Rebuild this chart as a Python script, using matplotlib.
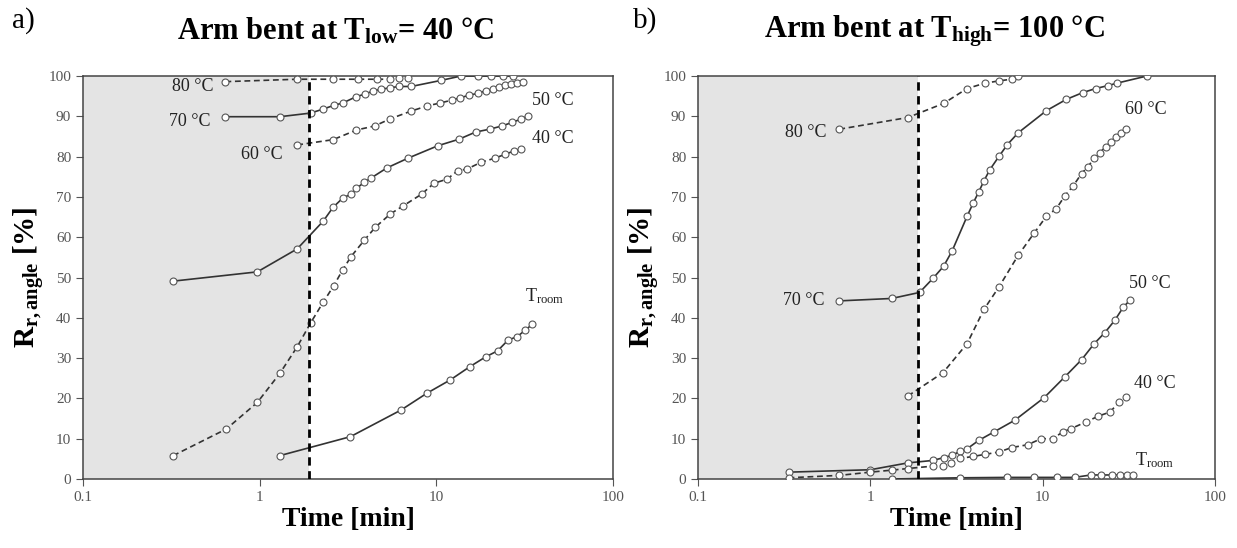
import matplotlib
matplotlib.use("Agg")
import matplotlib.pyplot as plt

plt.rcParams['font.family'] = ['Liberation Serif', 'DejaVu Serif']
plt.rcParams['mathtext.fontset'] = 'custom'
plt.rcParams['mathtext.rm'] = 'Liberation Serif'
plt.rcParams['mathtext.it'] = 'Liberation Serif'
plt.rcParams['mathtext.bf'] = 'Liberation Serif:bold'

#---------------------------data, panel a (T_low = 40 C)---------------------------#
a80_t = [0.64, 1.63, 2.6, 3.6, 4.6, 5.5, 6.15, 6.9]
a80_r = [98.6, 99.2, 99.2, 99.2, 99.2, 99.2, 99.4, 99.4]
a70_t = [0.64, 1.30, 1.94, 2.29, 2.62, 2.95, 3.53, 3.94, 4.38, 4.86, 5.5, 6.15, 7.2,
         10.6, 13.8, 17.1, 20.3, 23.8, 27.3]
a70_r = [89.9, 89.9, 90.8, 91.8, 92.7, 93.3, 94.9, 95.5, 96.3, 96.7, 97.1, 97.4, 97.4,
         98.9, 100, 100, 100, 100, 100]
a60_t = [1.63, 2.6, 3.53, 4.47, 5.5, 7.2, 8.9, 10.5, 12.2, 13.6, 15.3, 17.1, 19.0,
         20.9, 22.7, 24.6, 26.3, 28.6, 30.8]
a60_r = [82.9, 84.2, 86.6, 87.6, 89.4, 91.3, 92.6, 93.3, 94.0, 94.6, 95.2, 95.7, 96.3,
         96.8, 97.3, 97.7, 98.1, 98.3, 98.6]
a50_t = [0.324, 0.97, 1.63, 2.29, 2.6, 2.95, 3.29, 3.53, 3.9, 4.24, 5.25, 6.9, 10.2,
         13.4, 16.7, 20.0, 23.5, 26.9, 30.1, 33.0]
a50_r = [49.1, 51.4, 57.1, 64.0, 67.4, 69.7, 70.7, 72.1, 73.6, 74.6, 77.2, 79.6, 82.7,
         84.3, 86.1, 86.8, 87.6, 88.5, 89.3, 90.1]
a40_t = [0.324, 0.647, 0.97, 1.30, 1.63, 1.94, 2.29, 2.62, 2.95, 3.29, 3.9, 4.52, 5.5,
         6.5, 8.26, 9.7, 11.5, 13.2, 14.9, 17.9, 21.4, 24.6, 27.5, 30.1]
a40_r = [5.8, 12.4, 19.0, 26.2, 32.8, 38.7, 43.9, 47.9, 51.9, 55.2, 59.2, 62.5, 65.8,
         67.8, 70.7, 73.4, 74.4, 76.5, 76.9, 78.6, 79.6, 80.6, 81.4, 81.9]
aRT_t = [1.30, 3.26, 6.3, 8.85, 12.0, 15.5, 19.0, 22.2, 25.5, 28.6, 31.8, 34.9]
aRT_r = [5.8, 10.5, 17.1, 21.3, 24.6, 27.9, 30.3, 31.8, 34.5, 35.3, 36.9, 38.4]

#---------------------------data, panel b (T_high = 100 C)---------------------------#
b80_t = [0.66, 1.65, 2.66, 3.64, 4.6, 5.58, 6.59, 7.2]
b80_r = [86.8, 89.7, 93.2, 96.9, 98.2, 98.8, 99.2, 100]
b70_t = [0.66, 1.33, 1.93, 2.32, 2.66, 2.98, 3.64, 3.95, 4.26, 4.56, 4.94, 5.58, 6.24,
         7.2, 10.5, 13.7, 17.1, 20.3, 23.8, 26.8, 40.2]
b70_r = [44.2, 44.8, 46.3, 49.9, 52.8, 56.6, 65.2, 68.5, 71.3, 74.0, 76.8, 80.1, 83.0,
         85.9, 91.4, 94.2, 95.9, 96.9, 97.6, 98.2, 100]
b60_t = [1.65, 2.64, 3.64, 4.56, 5.58, 7.2, 8.94, 10.5, 12.0, 13.4, 15.0, 16.8, 18.3,
         19.9, 21.4, 23.2, 24.9, 26.5, 28.5, 30.4]
b60_r = [20.6, 26.4, 33.6, 42.1, 47.7, 55.5, 61.1, 65.2, 67.1, 70.2, 72.7, 75.8, 77.5,
         79.6, 81.0, 82.4, 83.7, 84.8, 85.8, 86.8]
b50_t = [0.335, 1.0, 1.65, 2.3, 2.66, 2.98, 3.33, 3.64, 4.26, 5.22, 6.89, 10.2, 13.4,
         16.8, 19.9, 22.9, 26.2, 29.4, 32.1]
b50_r = [1.7, 2.3, 4.0, 4.6, 5.3, 5.9, 6.9, 7.5, 9.6, 11.7, 14.6, 20.2, 25.3, 29.6,
         33.6, 36.3, 39.4, 42.7, 44.4]
b40_t = [0.335, 0.66, 1.0, 1.33, 1.65, 2.3, 2.64, 2.94, 3.3, 3.95, 4.6, 5.58, 6.59,
         8.17, 9.78, 11.4, 13.1, 14.6, 17.9, 21.0, 24.5, 27.7, 30.3]
b40_r = [0.3, 0.9, 1.7, 2.2, 2.6, 3.2, 3.3, 4.0, 5.1, 5.6, 6.1, 6.7, 7.8, 8.5, 10.0,
         10.0, 11.7, 12.5, 14.2, 15.6, 16.6, 19.0, 20.4]
bRT_t = [1.33, 3.3, 6.24, 8.86, 12.1, 15.3, 19.0, 21.9, 25.1, 28.1, 30.7, 33.6]
bRT_r = [0.0, 0.3, 0.4, 0.4, 0.4, 0.4, 1.0, 1.0, 1.0, 1.0, 1.0, 1.0]

t_bend = 1.9  # end of the bending step (dashed vertical)

panel_a = [(a80_t, a80_r, '--'), (a70_t, a70_r, '-'), (a60_t, a60_r, '--'),
           (a50_t, a50_r, '-'), (a40_t, a40_r, '--'), (aRT_t, aRT_r, '-')]
panel_b = [(b80_t, b80_r, '--'), (b70_t, b70_r, '-'), (b60_t, b60_r, '--'),
           (b50_t, b50_r, '-'), (b40_t, b40_r, '--'), (bRT_t, bRT_r, '-')]

labels_a = [('80 °C', 0.42, 97.3), ('70 °C', 0.40, 88.8), ('60 °C', 1.03, 80.6),
            ('50 °C', 45.7, 94.0), ('40 °C', 45.7, 84.6), (r'T$_{\rm room}$', 41.2, 45.4)]
labels_b = [('80 °C', 0.42, 85.9), ('70 °C', 0.41, 44.2), ('60 °C', 39.8, 91.6),
            ('50 °C', 42.0, 48.6), ('40 °C', 44.4, 23.6), (r'T$_{\rm room}$', 44.6, 4.7)]


def draw_panel(ax, series, labels):
    ax.axvspan(0.1, t_bend, color='#e4e4e4', zorder=0, lw=0)
    for t, r, ls in series:
        line, = ax.plot(t, r, ls, color='#333333', lw=1.2, marker='o', ms=5,
                        mfc='white', mec='#555555', mew=0.8, zorder=3)
        if ls == '--':
            line.set_dashes((3.5, 2.2))
    vl = ax.axvline(t_bend, color='black', lw=2, ls='--', zorder=4)
    vl.set_dashes((3, 2))
    for txt, x, y in labels:
        ax.text(x, y, txt, fontsize=13, ha='center', va='center', color='#222222')
    ax.set_xscale('log')
    ax.set_xlim(0.1, 100)
    ax.set_ylim(0, 100)
    ax.set_xticks([0.1, 1, 10, 100])
    ax.set_xticklabels(['0.1', '1', '10', '100'])
    ax.minorticks_off()
    ax.set_yticks(range(0, 101, 10))
    ax.tick_params(labelsize=11, labelcolor='#555555', color='#555555', length=5)
    ax.set_xlabel('Time [min]', fontsize=20, fontweight='bold', labelpad=2)
    ax.set_ylabel(r'$\mathbf{R_{r,angle}}$ [%]', fontsize=21, fontweight='bold', labelpad=1)
    for sp in ax.spines.values():
        sp.set_color('#444444')
        sp.set_linewidth(1.1)


fig = plt.figure(figsize=(12.37, 5.48), dpi=100)
ax1 = fig.add_axes([0.0671, 0.1259, 0.4285, 0.7354])
ax2 = fig.add_axes([0.5643, 0.1259, 0.418, 0.7354])

draw_panel(ax1, panel_a, labels_a)
draw_panel(ax2, panel_b, labels_b)

fig.text(0.271, 0.943, r'Arm bent at $\mathbf{T_{low}}$= 40 °C', fontsize=22,
         fontweight='bold', ha='center', va='center')
fig.text(0.755, 0.943, r'Arm bent at $\mathbf{T_{high}}$= 100 °C', fontsize=22,
         fontweight='bold', ha='center', va='center')
fig.text(0.010, 0.962, 'a)', fontsize=21, ha='left', va='center')
fig.text(0.512, 0.962, 'b)', fontsize=21, ha='left', va='center')

fig.savefig('out.png', dpi=100)
